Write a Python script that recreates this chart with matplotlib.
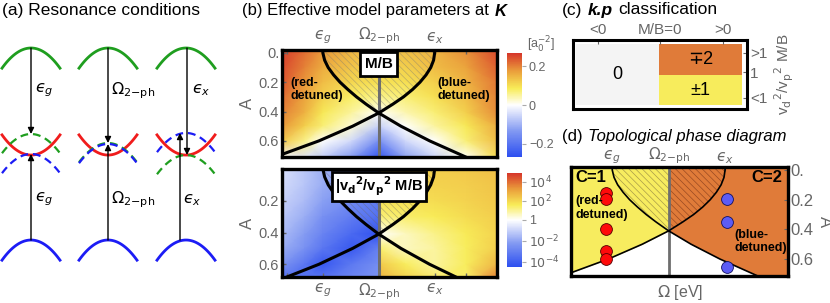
import numpy as np
import matplotlib
matplotlib.use('Agg')
import matplotlib.pyplot as plt
from matplotlib.colors import LinearSegmentedColormap, Normalize, TwoSlopeNorm
from matplotlib.offsetbox import TextArea, HPacker, AnchoredOffsetbox

plt.rcParams['font.family'] = ['Liberation Sans', 'DejaVu Sans']
plt.rcParams['mathtext.fontset'] = 'dejavusans'
plt.rcParams['hatch.linewidth'] = 0.5

# ---------------- data ----------------
eps_g, omega_2ph, eps_x = 1.60, 1.756, 1.912
omega_lim = (1.486, 2.086)
omega_minor = [1.5, 2.0]
res_labels = ['$\u03f5_g$', r'$\Omega_{\mathrm{2{-}ph}}$', '$\u03f5_x$']

# boundary curves
A_curve = [-0.02, 0.0, 0.05, 0.1, 0.15, 0.2, 0.25, 0.3, 0.35, 0.41, 0.5, 0.6, 0.72]
L_curve = [1.600, 1.600, 1.605, 1.615, 1.630, 1.648, 1.670, 1.694, 1.721, 1.756, 1.818, 1.898, 2.008]
R_curve = [1.912, 1.912, 1.909, 1.901, 1.888, 1.871, 1.850, 1.825, 1.795, 1.756, 1.683, 1.589, 1.455]
n_wedge = 10  # points down to the crossing

# (b) top: M/B  [a0^-2]
A_nodes = [-0.02, 0.1, 0.2, 0.3, 0.41, 0.5, 0.6, 0.72]
omega_nodes = [1.486, 1.55, 1.60, 1.68, 1.756, 1.83, 1.912, 2.0, 2.086]
mb_grid = [
    [0.26, 0.22, 0.18, 0.15, 0.14, 0.14, 0.15, 0.19, 0.25],
    [0.25, 0.20, 0.16, 0.13, 0.12, 0.12, 0.14, 0.17, 0.23],
    [0.24, 0.18, 0.14, 0.11, 0.10, 0.10, 0.12, 0.15, 0.21],
    [0.22, 0.17, 0.12, 0.08, 0.06, 0.07, 0.10, 0.14, 0.20],
    [0.20, 0.15, 0.09, 0.05, 0.00, 0.04, 0.07, 0.12, 0.19],
    [0.18, 0.12, 0.07, 0.02, -0.06, 0.00, 0.05, 0.09, 0.16],
    [0.13, 0.06, 0.00, -0.05, -0.15, -0.05, 0.00, 0.07, 0.14],
    [-0.01, -0.04, -0.07, -0.14, -0.27, -0.13, -0.06, 0.00, 0.10],
]

# (b) bottom: log10 |vd^2/vp^2 M/B|, split at Omega_2ph
omega_left = [1.486, 1.55, 1.60, 1.68, 1.756]
omega_right = [1.756, 1.83, 1.912, 2.0, 2.086]
log_left = [
    [-0.7, -1.2, -1.7, -2.2, -2.6],
    [-0.8, -1.3, -1.8, -2.4, -2.8],
    [-1.0, -1.5, -2.1, -2.7, -3.1],
    [-1.2, -1.8, -2.5, -3.1, -3.5],
    [-1.5, -2.2, -2.9, -3.7, -4.4],
    [-1.8, -2.5, -3.3, -4.2, -3.0],
    [-2.4, -3.3, -4.2, -3.2, -2.6],
    [-4.0, -3.5, -3.0, -2.7, -2.4],
]
log_right = [
    [2.1, 2.1, 2.2, 2.3, 2.5],
    [2.0, 2.0, 2.1, 2.2, 2.4],
    [1.8, 1.8, 1.9, 2.1, 2.3],
    [1.3, 1.4, 1.6, 1.9, 2.2],
    [0.0, 0.6, 1.1, 1.6, 2.1],
    [1.4, 0.6, 0.9, 1.5, 2.2],
    [2.3, 1.5, 0.9, 1.5, 2.7],
    [2.9, 2.3, 1.7, 1.4, 4.0],
]

# (a) band apexes (arbitrary energy units, blue band = 0, green band = 2)
top_band, bottom_band = 2.0, 0.0
red_mid = [0.885, 0.885, 0.885]
green_dash = [1.104, 1.01, 0.885]
blue_dash = [0.896, 1.0, 1.115]

# (c) k.p classification cells
cell_x0 = [-1.34, -0.02, -0.02]
cell_x1 = [-0.02, 1.31, 1.31]
cell_y0 = [0.17, 1.48, 0.17]
cell_y1 = [2.83, 2.83, 1.48]
cell_colors = ['#f4f4f4', '#e07b39', '#f7ec5c']
cell_text = ['0', '\u22132', '\u00b11']
c_xticks, c_xlabels = [-1, 0, 1], ['<0', 'M/B=0', '>0']
c_yticks, c_ylabels = [2.45, 1.6, 0.5], ['>1', '1', '<1']

# (d) sample points
red_omega = [1.584, 1.584, 1.584, 1.584, 1.584]
red_A = [0.157, 0.197, 0.40, 0.543, 0.60]
blue_omega = [1.916, 1.916, 1.916]
blue_A = [0.197, 0.348, 0.651]

# ---------------- figure ----------------
W, H = 830, 303
fig = plt.figure(figsize=(W / 100, H / 100), dpi=100)
GRAY = '#666666'
HATCH = '\\' * 5


def box(x0, y0, x1, y1):
    return fig.add_axes([x0 / W, 1 - y1 / H, (x1 - x0) / W, (y1 - y0) / H])


def title(x, y, parts, size=12.5):
    kids = [TextArea(t, textprops=dict(fontsize=size, **p)) for t, p in parts]
    pack = HPacker(children=kids, pad=0, sep=4, align='baseline')
    ab = AnchoredOffsetbox(loc='center left', child=pack, pad=0, borderpad=0, frameon=False,
                           bbox_to_anchor=(x / W, 1 - y / H), bbox_transform=fig.transFigure)
    fig.add_artist(ab)


cmap = LinearSegmentedColormap.from_list('mb', [
    (0.0, '#2d4ff0'), (0.25, '#8299f2'), (0.5, '#ffffff'),
    (0.66, '#f8ec58'), (0.82, '#eba23c'), (1.0, '#d6352a')])

# ---- (a) ----
ax = box(0, 0, 220, 303)
ax.set_xlim(0, 220)
ax.set_ylim(-0.656, 2.5)
ax.axis('off')
col_x = [31, 108, 186]
up_x = [31, 108, 180]
down_x = [31, 108, 187]
k = np.linspace(-1, 1, 41)
for i, cx in enumerate(col_x):
    xs = cx + 29 * k
    ax.plot(xs, top_band - 0.21 * k ** 2, color='#1f9e1f', lw=2.0)
    ax.plot(xs, bottom_band - 0.21 * k ** 2, color='#1c1cf5', lw=2.0)
    ax.plot(xs, red_mid[i] + 0.21 * k ** 2, color='#f01c1c', lw=2.0)
    ax.plot(xs, green_dash[i] - 0.2 * k ** 2, color='#1f9e1f', lw=1.6, dashes=(3.5, 2.2))
    ax.plot(xs, blue_dash[i] - 0.2 * k ** 2, color='#1c1cf5', lw=1.6, dashes=(3.5, 2.2))
    arr = dict(arrowstyle='-|>', color='k', lw=1.0, mutation_scale=9, shrinkA=0, shrinkB=0)
    ax.annotate('', xy=(down_x[i], green_dash[i]), xytext=(down_x[i], top_band), arrowprops=arr)
    ax.annotate('', xy=(up_x[i], blue_dash[i]), xytext=(up_x[i], bottom_band), arrowprops=arr)
lab_x_top = [35, 111, 192]
lab_x_bot = [35, 111, 183]
for i in range(3):
    ax.text(lab_x_top[i], 1.56, res_labels[i], fontsize=11.5, va='center', ha='left')
    ax.text(lab_x_bot[i], 0.42, res_labels[i], fontsize=11.5, va='center', ha='left')
fig.text(2 / W, 1 - 11 / H, '(a) Resonance conditions', fontsize=12.5, va='center')

# ---- (b) ----
title(242, 11, [('(b) Effective model parameters at', {}),
                ('K', dict(fontweight='bold', fontstyle='italic'))], size=12)


def style_b(a, ylim, yt, ylab, top):
    a.set_xlim(*omega_lim)
    a.set_ylim(*ylim)
    a.set_xticks([eps_g, omega_2ph, eps_x])
    a.set_xticks(omega_minor, minor=True)
    if top:
        a.xaxis.tick_top()
    a.set_xticklabels(res_labels)
    a.set_yticks(yt)
    a.set_yticklabels(ylab)
    a.tick_params(which='both', direction='in', color=GRAY, labelcolor=GRAY,
                  length=3, width=1, labelsize=10.5, pad=2)
    a.tick_params(axis='x', labelsize=11, pad=3)
    for s in a.spines.values():
        s.set_linewidth(2.4)
    a.set_ylabel('A', color=GRAY, fontsize=12, labelpad=3)


def curves(a, lw):
    a.axvline(omega_2ph, color='#6e6e6e', lw=2.2)
    a.plot(L_curve, A_curve, color='k', lw=lw, solid_capstyle='butt')
    a.plot(R_curve, A_curve, color='k', lw=lw, solid_capstyle='butt')


axb1 = box(282, 50, 497, 157)
m1 = axb1.pcolormesh(omega_nodes, A_nodes, mb_grid, shading='gouraud', cmap=cmap,
                     norm=Normalize(-0.27, 0.27))
axb1.fill_betweenx(A_curve[:n_wedge], L_curve[:n_wedge], R_curve[:n_wedge],
                   facecolor='none', edgecolor=(0.45, 0.45, 0.45, 0.45), hatch=HATCH, lw=0)
curves(axb1, 2.2)
style_b(axb1, (0.71, -0.02), [0, 0.2, 0.4, 0.6], ['0.', '0.2', '0.4', '0.6'], True)
axb1.text(omega_2ph, 0.075, 'M/B', fontsize=11, fontweight='bold', ha='center', va='center',
          bbox=dict(boxstyle='square,pad=0.3', fc='white', ec='k', lw=2))
axb1.text(1.509, 0.25, '(red-\ndetuned)', fontsize=9, fontweight='bold', va='center', linespacing=1.15)
axb1.text(1.92, 0.25, '(blue-\ndetuned)', fontsize=9, fontweight='bold', va='center', linespacing=1.15)

cax1 = box(507, 53, 522, 157)
cb1 = fig.colorbar(m1, cax=cax1, ticks=[-0.2, 0, 0.2])
cb1.ax.set_yticklabels(['\u22120.2', '0', '0.2'])
cb1.outline.set_visible(False)
cb1.ax.tick_params(color='#aaaaaa', labelcolor=GRAY, labelsize=9, length=3, pad=2)
fig.text(527 / W, 1 - 45 / H, r'[a$_0^{-2}$]', fontsize=9, color=GRAY, va='center')

axb2 = box(282, 169, 497, 277)
norm2 = TwoSlopeNorm(vcenter=0, vmin=-4.5, vmax=4.9)
m2 = axb2.pcolormesh(omega_left, A_nodes, log_left, shading='gouraud', cmap=cmap, norm=norm2)
axb2.pcolormesh(omega_right, A_nodes, log_right, shading='gouraud', cmap=cmap, norm=norm2)
axb2.fill_betweenx(A_curve[:n_wedge], L_curve[:n_wedge], R_curve[:n_wedge],
                   facecolor='none', edgecolor=(0.4, 0.4, 0.4, 0.45), hatch=HATCH, lw=0)
curves(axb2, 2.2)
style_b(axb2, (0.68, 0.0), [0.2, 0.4, 0.6], ['0.2', '0.4', '0.6'], False)
axb2.text(omega_2ph, 0.11, r'|v$_\mathbf{d}$$^\mathbf{2}$/v$_\mathbf{p}$$^\mathbf{2}$ M/B',
          fontsize=10.5, fontweight='bold', ha='center', va='center',
          bbox=dict(boxstyle='square,pad=0.2', fc='white', ec='k', lw=2))

cax2 = box(507, 173, 522, 267)
cb2 = fig.colorbar(m2, cax=cax2, ticks=[-4, -2, 0, 2, 4])
cb2.ax.set_yticklabels([r'$10^{-4}$', r'$10^{-2}$', '1', r'$10^{2}$', r'$10^{4}$'])
cb2.outline.set_visible(False)
cb2.ax.tick_params(color='#aaaaaa', labelcolor=GRAY, labelsize=9, length=3, pad=2)

# ---- (c) ----
title(562, 10, [('(c)', {}), ('k.p', dict(fontweight='bold', fontstyle='italic')),
                ('classification', {})])
axc = box(573, 40, 747, 109)
axc.set_xlim(-1.392, 1.392)
axc.set_ylim(0, 3)
for x0, x1, y0, y1, c, t in zip(cell_x0, cell_x1, cell_y0, cell_y1, cell_colors, cell_text):
    axc.bar((x0 + x1) / 2, y1 - y0, width=x1 - x0, bottom=y0, color=c, lw=0)
    axc.text((x0 + x1) / 2, (y0 + y1) / 2, t, fontsize=13, ha='center', va='center')
axc.set_xticks(c_xticks)
axc.set_xticklabels(c_xlabels)
axc.xaxis.tick_top()
axc.set_yticks(c_yticks)
axc.set_yticklabels(c_ylabels)
axc.yaxis.tick_right()
axc.yaxis.set_label_position('right')
axc.set_ylabel(r'v$_\mathrm{d}$$^2$/v$_\mathrm{p}$$^2$ M/B', color=GRAY, fontsize=11, labelpad=4)
axc.tick_params(direction='in', color=GRAY, labelcolor=GRAY, length=3, labelsize=11, pad=2)
for s in axc.spines.values():
    s.set_linewidth(2.2)

# ---- (d) ----
title(562, 136, [('(d)', {}), ('Topological phase diagram', dict(fontstyle='italic'))], size=12)
axd = box(571, 167, 788, 276)
axd.fill_betweenx(A_curve, omega_lim[0], np.minimum(omega_2ph, R_curve), color='#f7ec5f', lw=0)
axd.fill_betweenx(A_curve, np.maximum(omega_2ph, L_curve), omega_lim[1], color='#e07b39', lw=0)
axd.fill_betweenx(A_curve[:n_wedge], L_curve[:n_wedge], omega_2ph,
                  facecolor='none', edgecolor='#a89c48', hatch=HATCH, lw=0)
axd.fill_betweenx(A_curve[:n_wedge], omega_2ph, R_curve[:n_wedge],
                  facecolor='none', edgecolor='#9a4a22', hatch=HATCH, lw=0)
axd.axvline(omega_2ph, color='#6e6e6e', lw=2.0)
axd.plot(L_curve, A_curve, color='k', lw=1.2)
axd.plot(R_curve, A_curve, color='k', lw=1.2)
axd.plot(red_omega, red_A, 'o', ms=8.5, mfc='#ff0a0a', mec='#550000', mew=0.6)
axd.plot(blue_omega, blue_A, 'o', ms=8.5, mfc='#5c5cf5', mec='#101060', mew=0.6)
axd.set_xlim(*omega_lim)
axd.set_ylim(0.714, -0.02)
axd.set_xticks([eps_g, omega_2ph, eps_x])
axd.set_xticklabels(res_labels)
axd.xaxis.tick_top()
axd.set_yticks([0, 0.2, 0.4, 0.6])
axd.set_yticklabels(['0.', '0.2', '0.4', '0.6'])
axd.yaxis.tick_right()
axd.tick_params(direction='in', color=GRAY, labelcolor=GRAY, length=3, labelsize=11, pad=1)
axd.tick_params(axis='y', labelsize=12, pad=2)
for s in axd.spines.values():
    s.set_linewidth(2.4)
axd.text(0.02, 0.9, 'C=1', transform=axd.transAxes, fontsize=12, fontweight='bold', va='center')
axd.text(0.975, 0.9, 'C=2', transform=axd.transAxes, fontsize=12, fontweight='bold', va='center', ha='right')
axd.text(0.02, 0.625, '(red-\ndetuned)', transform=axd.transAxes, fontsize=9, fontweight='bold',
         va='center', linespacing=1.15)
axd.text(0.755, 0.315, '(blue-\ndetuned)', transform=axd.transAxes, fontsize=9, fontweight='bold',
         va='center', linespacing=1.15)
fig.text(680 / W, 1 - 293 / H, r'$\Omega$ [eV]', fontsize=11.5, color=GRAY, ha='center', va='center')
fig.text(824 / W, 1 - 222 / H, 'A', fontsize=12, color=GRAY, ha='center', va='center', rotation=-90)

fig.savefig('out.png', dpi=100)
